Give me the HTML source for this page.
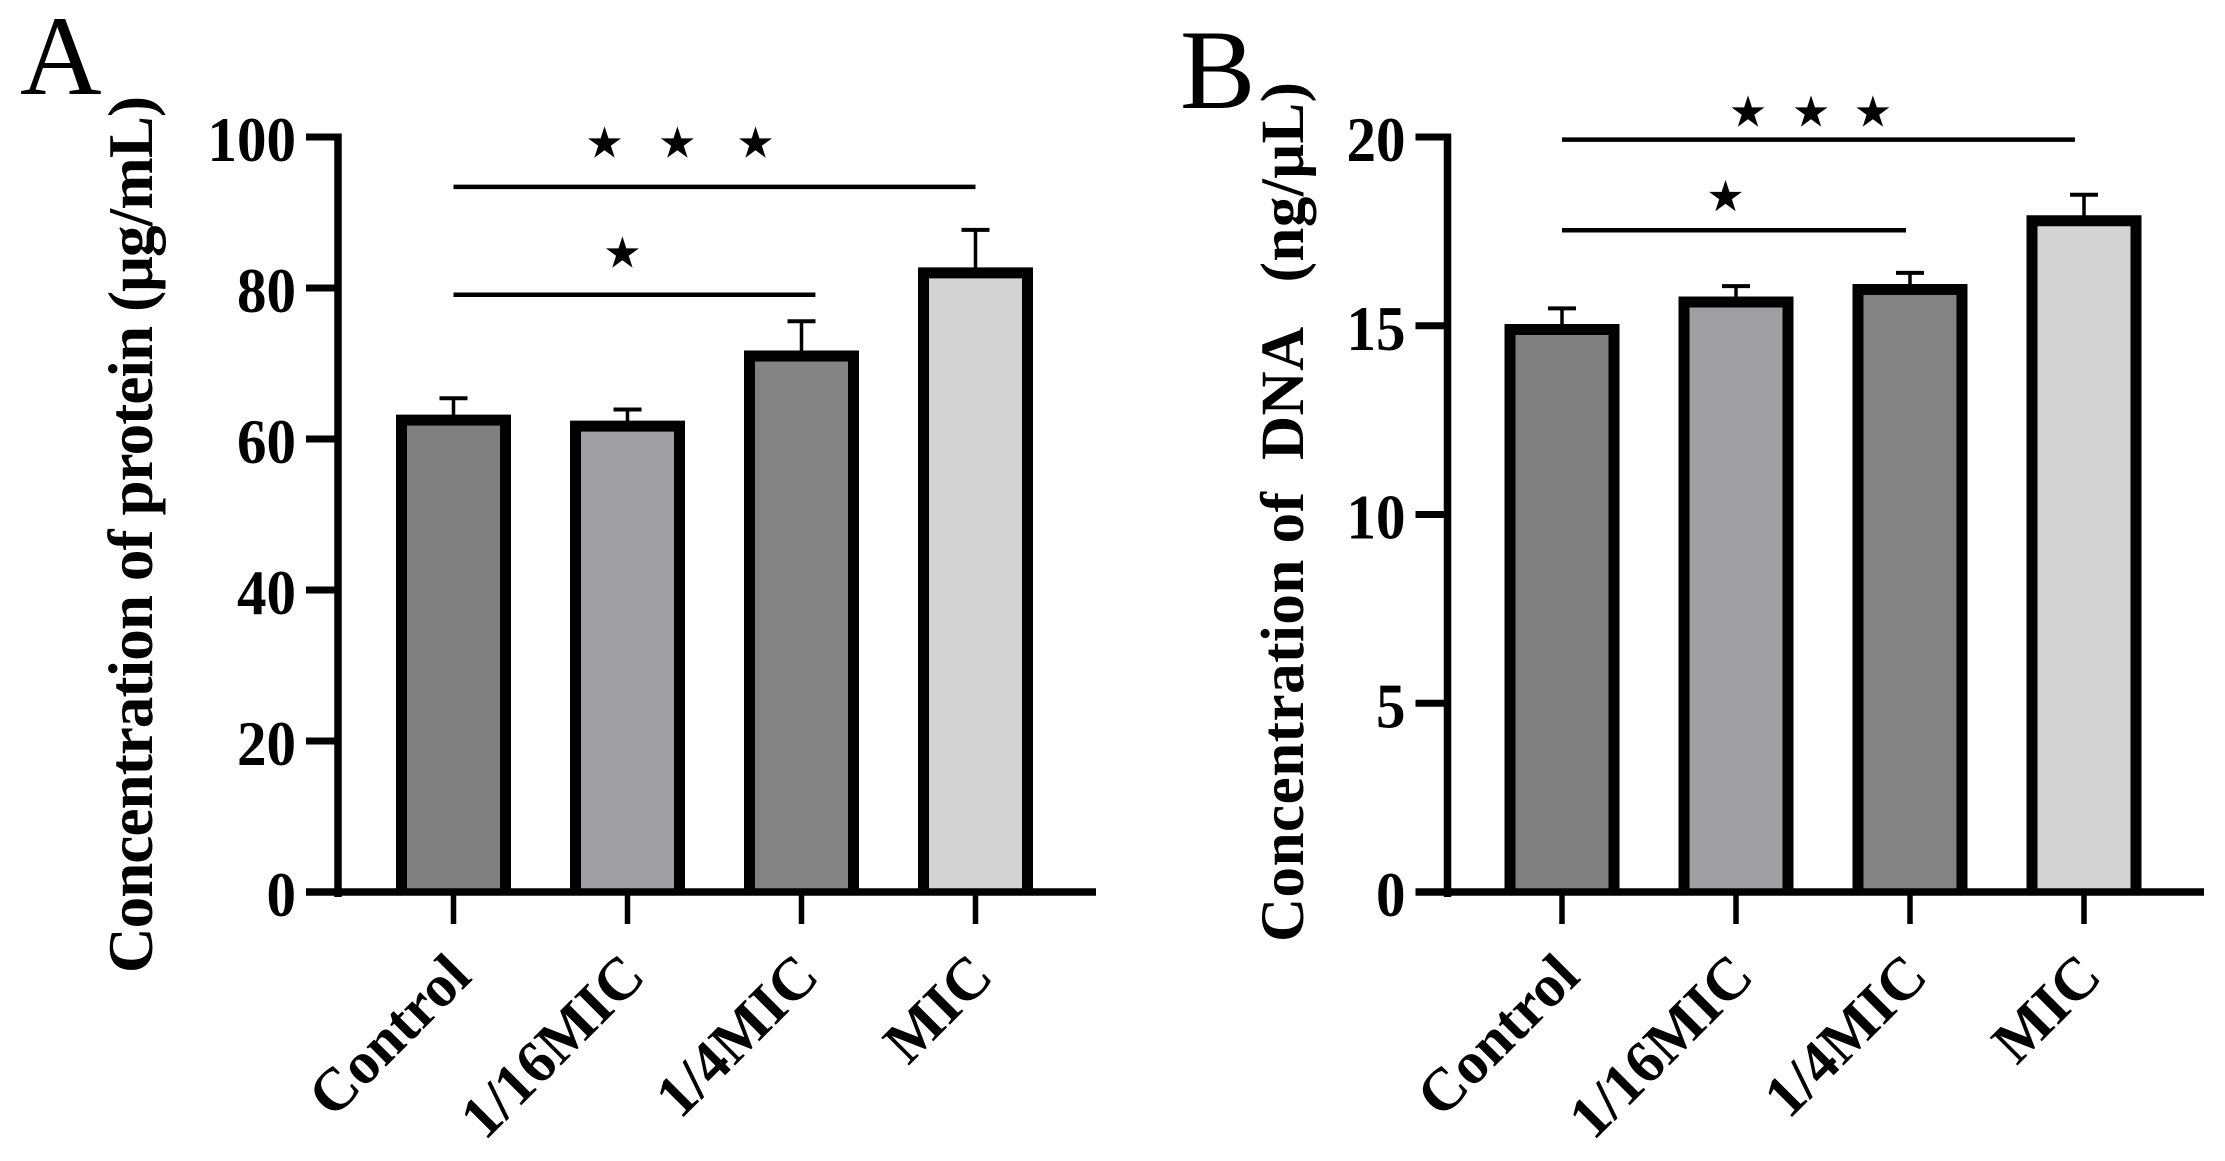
<!DOCTYPE html>
<html>
<head>
<meta charset="utf-8">
<title>Protein and DNA concentration</title>
<style>
html,body{margin:0;padding:0;background:#fff;width:2225px;height:1161px;overflow:hidden}
svg{display:block}
text{fill:#000;font-family:"Liberation Serif",serif}
.tick{font-weight:bold;font-size:64px}
.cat{font-weight:bold;font-size:60px}
.title{font-weight:bold;white-space:pre}
.panel{font-size:113px}
.star{font-family:"DejaVu Sans",sans-serif;font-size:43px}
</style>
</head>
<body>
<svg id="figure" xmlns="http://www.w3.org/2000/svg" width="2225" height="1161" viewBox="0 0 2225 1161">
<rect x="0" y="0" width="2225" height="1161" fill="#fff"/>
<text class="panel" x="20" y="94">A</text>
<text class="panel" x="1180" y="108">B</text>
<g id="panel-a"></g>
<g id="panel-b"></g>
</svg>
<script>
const categories = ['Control', '1/16MIC', '1/4MIC', 'MIC'];
const barColors = ['#808080', '#9f9ea3', '#838383', '#d3d3d3'];

const proteinValues = [62.5, 61.7, 71, 82];
const proteinErrorTops = [65.4, 63.9, 75.6, 87.7];
const proteinTicks = [0, 20, 40, 60, 80, 100];
const proteinSigLevels = [93.4, 79.1];
const proteinSigEnds = [3.0, 2.08];
const proteinStarCats = [0.868, 1.287, 1.736, 0.971];
const proteinStarLevels = [99.3, 99.3, 99.3, 84.7];

const dnaValues = [14.9, 15.63, 15.96, 17.78];
const dnaErrorTops = [15.46, 16.05, 16.4, 18.47];
const dnaTicks = [0, 5, 10, 15, 20];
const dnaSigLevels = [19.93, 17.53];
const dnaSigEnds = [2.948, 1.977];
const dnaStarCats = [1.069, 1.431, 1.787, 0.94];
const dnaStarLevels = [20.67, 20.67, 20.67, 18.44];

const SVG_NS = 'http://www.w3.org/2000/svg';

function make(tag, attrs, parent) {
  const node = document.createElementNS(SVG_NS, tag);
  for (const key in attrs) node.setAttribute(key, attrs[key]);
  parent.appendChild(node);
  return node;
}

function drawChart(group, cfg) {
  const yAt = v => cfg.y0 - (v / cfg.yMax) * (cfg.y0 - cfg.yTop);
  const xAt = i => cfg.x0 + i * cfg.step;
  let el;

  // bars and error bars
  cfg.values.forEach((v, i) => {
    const cx = xAt(i);
    el = make('line', {x1: cx, x2: cx, y1: yAt(v), y2: yAt(cfg.errors[i]), stroke: '#000', 'stroke-width': 3.5}, group);
    
    
    el = make('line', {x1: cx - 14, x2: cx + 14, y1: yAt(cfg.errors[i]), y2: yAt(cfg.errors[i]), stroke: '#000', 'stroke-width': 4}, group);
    
    
    const d = 'M' + (cx - 52) + ' ' + yAt(0) + 'V' + yAt(v) + 'H' + (cx + 52) + 'V' + yAt(0);
    el = make('path', {d: d, fill: barColors[i], stroke: '#000', 'stroke-width': 11, 'stroke-linejoin': 'miter'}, group);
    
    
  });

  // y axis
  el = make('line', {x1: cfg.axisX, x2: cfg.axisX, y1: yAt(cfg.yMax) - 3.5, y2: yAt(0) + 5, stroke: '#000', 'stroke-width': 7.5}, group);
  
  
  cfg.ticks.forEach(t => {
    el = make('line', {x1: cfg.axisX - 32, x2: cfg.axisX, y1: yAt(t), y2: yAt(t), stroke: '#000', 'stroke-width': 7}, group);
    
    
    const label = String(t);
    el = make('text', {class: 'tick', x: cfg.axisX - 42, y: yAt(t) + 24, 'text-anchor': 'end', textLength: label.length * 29.5, lengthAdjust: 'spacingAndGlyphs'}, group);
    el.textContent = label;
    
    
  });

  // x axis
  el = make('line', {x1: cfg.axisX - 32, x2: cfg.axisEnd, y1: yAt(0), y2: yAt(0), stroke: '#000', 'stroke-width': 7.5}, group);
  
  
  categories.forEach((c, i) => {
    const cx = xAt(i);
    el = make('line', {x1: cx, x2: cx, y1: yAt(0), y2: yAt(0) + 32, stroke: '#000', 'stroke-width': 5.5}, group);
    
    
    const lx = cx + 20, ly = yAt(0) + 87;
    el = make('text', {class: 'cat', x: lx, y: ly, 'text-anchor': 'end', transform: 'rotate(-45 ' + lx + ' ' + ly + ')'}, group);
    el.textContent = c;
    
    
  });

  // y axis title
  el = make('text', {class: 'title', x: 0, y: 0, 'font-size': cfg.titleSize, 'text-anchor': 'start', textLength: cfg.titleLength, lengthAdjust: 'spacing', transform: 'translate(' + cfg.titleX + ' ' + cfg.titleBottom + ') rotate(-90)'}, group);
  el.textContent = cfg.title;
  
  

  // significance lines
  cfg.sigLevels.forEach((lvl, i) => {
    el = make('line', {x1: xAt(0), x2: xAt(cfg.sigEnds[i]), y1: yAt(lvl), y2: yAt(lvl), stroke: '#000', 'stroke-width': 4.5}, group);
    
    
  });

  // significance stars
  cfg.starCats.forEach((c, i) => {
    el = make('text', {class: 'star', x: xAt(c), y: yAt(cfg.starLevels[i]) + 15, 'text-anchor': 'middle'}, group);
    el.textContent = '\u2605';
    
    
  });
}

drawChart(document.getElementById('panel-a'), {
  x0: 453.5, step: 174, y0: 892, yTop: 137, yMax: 100, axisX: 338, axisEnd: 1096,
  values: proteinValues, errors: proteinErrorTops, ticks: proteinTicks,
  sigLevels: proteinSigLevels, sigEnds: proteinSigEnds,
  starCats: proteinStarCats, starLevels: proteinStarLevels,
  title: 'Concentration of protein (\u03BCg/mL)',
  titleSize: 63, titleX: 152, titleBottom: 973, titleLength: 877
});

drawChart(document.getElementById('panel-b'), {
  x0: 1562, step: 174, y0: 892, yTop: 137, yMax: 20, axisX: 1447.5, axisEnd: 2204,
  values: dnaValues, errors: dnaErrorTops, ticks: dnaTicks,
  sigLevels: dnaSigLevels, sigEnds: dnaSigEnds,
  starCats: dnaStarCats, starLevels: dnaStarLevels,
  title: 'Concentration of  DNA   (ng/\u03BCL)',
  titleSize: 61, titleX: 1303, titleBottom: 942, titleLength: 860
});
</script>
</body>
</html>
